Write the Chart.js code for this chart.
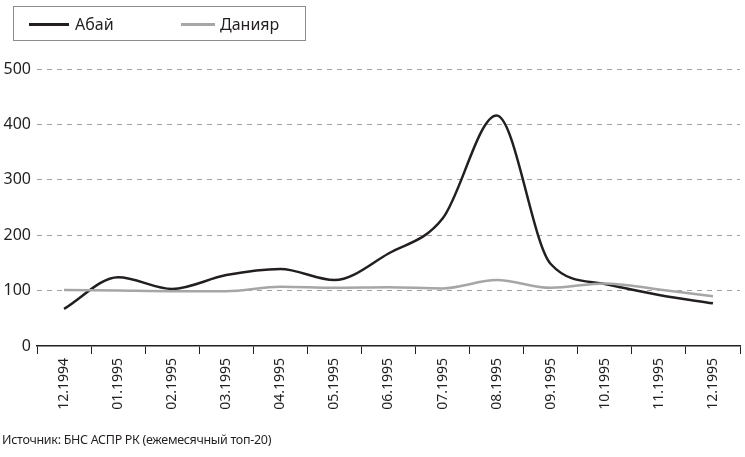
<!DOCTYPE html>
<html><head><meta charset="utf-8">
<script src="https://cdn.jsdelivr.net/npm/chart.js@4/dist/chart.umd.min.js"></script>
<style>
html,body{margin:0;padding:0;background:#fff;}
#wrap{position:relative;width:745px;height:457px;font-family:"Noto Sans",sans-serif;color:#231f20;}
#legend{position:absolute;left:13px;top:6px;width:293px;height:35px;border:1px solid #8c8c8c;box-sizing:border-box;}
.li{position:absolute;top:0;height:34px;line-height:34px;font-size:16px;}
.sw{position:absolute;top:16px;height:2.5px;}
#note{position:absolute;left:2px;top:431px;font-size:12.5px;letter-spacing:-0.3px;}
canvas{position:absolute;left:0;top:0;}
</style></head>
<body><div id="wrap">
<canvas id="c" width="745" height="457"></canvas>
<div id="legend">
 <div class="sw" style="left:15px;width:40px;background:#231f20"></div><div class="li" style="left:61px">Абай</div>
 <div class="sw" style="left:167px;width:34px;background:#a6a6a6"></div><div class="li" style="left:206px">Данияр</div>
</div>
<div id="note">Источник: БНС АСПР РК (ежемесячный топ-20)</div>
</div>
<script>
const categories = ["12.1994","01.1995","02.1995","03.1995","04.1995","05.1995","06.1995","07.1995","08.1995","09.1995","10.1995","11.1995","12.1995"];
const abai = [67,124,103,128,139,119,167,230,416,148,112,92,77];
const daniyar = [101,100,99,99,107,105,106,104,119,105,113,102,90];
const yTicks = [0,100,200,300,400,500];

new Chart(document.getElementById('c'), {
  type: 'line',
  data: {
    labels: categories,
    datasets: [
      {label:'Данияр', data: daniyar, borderColor:'#a6a6a6', borderWidth:2.5, pointRadius:0, cubicInterpolationMode:'monotone', fill:false},
      {label:'Абай', data: abai, borderColor:'#231f20', borderWidth:2.5, pointRadius:0, cubicInterpolationMode:'monotone', fill:false}
    ]
  },
  options: {
    responsive:false, animation:false,
    layout:{padding:{top:69,right:5,left:0,bottom:41}},
    plugins:{legend:{display:false}, tooltip:{enabled:false}},
    scales:{
      x:{
        offset:true,
        grid:{offset:true, drawOnChartArea:false, drawTicks:true, tickLength:8, color:'#231f20', lineWidth:1},
        border:{display:true, color:'#231f20', width:1.5},
        ticks:{maxRotation:90, minRotation:90, autoSkip:false, color:'#231f20', font:{family:'Noto Sans', size:14}, padding:4},
        afterFit:(s)=>{s.height=70;}
      },
      y:{
        min:0, max:500,
        afterBuildTicks:(s)=>{s.ticks = yTicks.map(v=>({value:v}));},
        grid:{color:(ctx)=> ctx.tick && ctx.tick.value===0 ? 'rgba(0,0,0,0)' : '#a0a0a0', lineWidth:1, drawTicks:false},
        border:{display:false, dash:[5,5]},
        ticks:{color:'#231f20', font:{family:'Noto Sans', size:16}, padding:6},
        afterFit:(s)=>{s.width=37;}
      }
    }
  }
});
</script>
</body></html>
